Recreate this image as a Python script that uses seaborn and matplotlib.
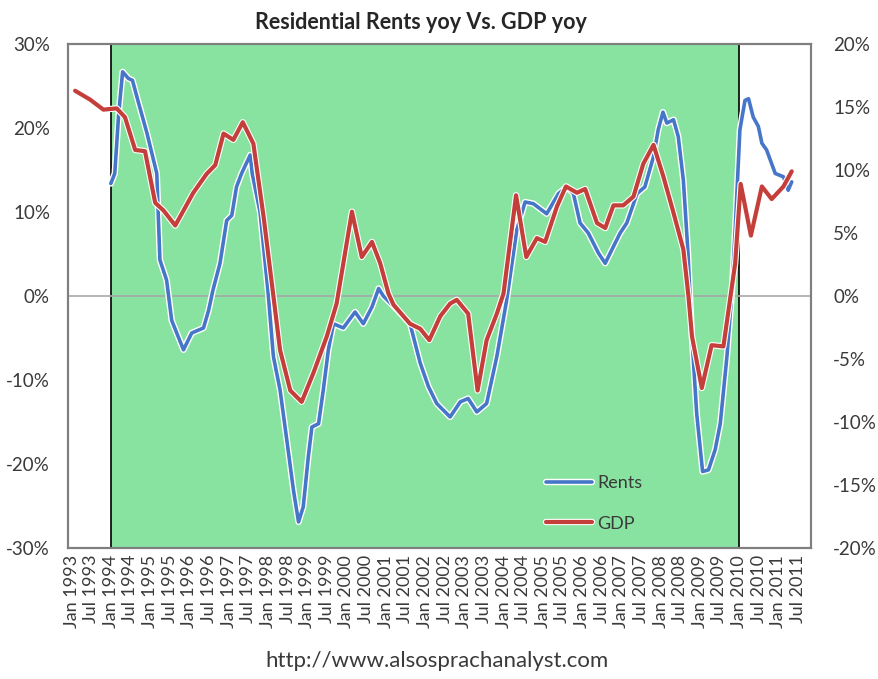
import pandas as pd
import seaborn as sns
import matplotlib.pyplot as plt
import matplotlib.patheffects as pe

sns.set_style("white")
plt.rcParams['font.family'] = ['Lato', 'DejaVu Sans']

# rents yoy (left axis, %) at decimal years
rent_year = [1994.0, 1994.1, 1994.2, 1994.3, 1994.45, 1994.55, 1994.7, 1994.92, 1995.17, 1995.25,
             1995.42, 1995.55, 1995.85, 1996.06, 1996.36, 1996.49, 1996.6, 1996.78, 1996.95, 1997.08,
             1997.2, 1997.33, 1997.55, 1997.6, 1997.8, 1998.0, 1998.14, 1998.31, 1998.48, 1998.65,
             1998.78, 1998.9, 1999.03, 1999.12, 1999.29, 1999.41, 1999.54, 1999.67, 1999.92, 2000.22,
             2000.43, 2000.65, 2000.82, 2000.94, 2001.24, 2001.62, 2001.88, 2002.09, 2002.3, 2002.64,
             2002.9, 2003.1, 2003.32, 2003.57, 2003.83, 2004.08, 2004.34, 2004.55, 2004.76, 2005.1,
             2005.4, 2005.61, 2005.78, 2005.95, 2006.16, 2006.42, 2006.59, 2006.8, 2006.97, 2007.14,
             2007.4, 2007.6, 2007.82, 2007.94, 2008.06, 2008.16, 2008.33, 2008.45, 2008.58, 2008.7,
             2008.8, 2008.92, 2009.07, 2009.22, 2009.39, 2009.52, 2009.69, 2009.81, 2009.9, 2010.02,
             2010.15, 2010.24, 2010.36, 2010.49, 2010.58, 2010.7, 2010.92, 2011.13, 2011.25, 2011.34]
rent_yoy = [13.4, 14.6, 21.7, 26.7, 25.9, 25.7, 23.1, 19.4, 14.6, 4.3,
            1.9, -2.9, -6.4, -4.4, -3.8, -1.7, 0.7, 3.9, 9.0, 9.6,
            13.0, 14.6, 16.8, 14.6, 10.0, 0.7, -7.2, -11.2, -17.1, -23.1,
            -26.9, -25.1, -19.1, -15.6, -15.2, -11.2, -6.4, -3.3, -3.8, -1.9,
            -3.3, -1.3, 0.9, 0.0, -1.4, -3.3, -8.0, -10.8, -12.8, -14.4,
            -12.6, -12.2, -13.8, -12.8, -7.2, -0.5, 7.9, 11.2, 11.0, 9.8,
            12.2, 13.0, 12.2, 8.7, 7.5, 5.1, 3.9, 5.9, 7.5, 8.7,
            12.2, 13.0, 16.6, 19.8, 21.9, 20.6, 21.0, 19.0, 13.8, 5.0,
            -5.0, -14.0, -20.9, -20.7, -18.3, -15.2, -7.2, 0.0, 7.9, 19.8,
            23.3, 23.5, 21.3, 20.2, 18.2, 17.4, 14.6, 14.2, 12.6, 13.6]

# GDP yoy (right axis, %)
gdp_year = [1993.09, 1993.47, 1993.81, 1994.15, 1994.36, 1994.62, 1994.87, 1995.13, 1995.34, 1995.64,
            1996.1, 1996.44, 1996.66, 1996.87, 1997.12, 1997.36, 1997.63, 1997.89, 1998.14, 1998.31,
            1998.57, 1998.86, 1999.16, 1999.5, 1999.75, 2000.14, 2000.39, 2000.65, 2000.86, 2001.07,
            2001.2, 2001.62, 2001.88, 2002.11, 2002.39, 2002.64, 2002.81, 2003.1, 2003.34, 2003.57,
            2003.83, 2004.0, 2004.32, 2004.58, 2004.85, 2005.06, 2005.36, 2005.59, 2005.87, 2006.08,
            2006.38, 2006.59, 2006.8, 2007.05, 2007.31, 2007.56, 2007.82, 2008.07, 2008.33, 2008.58,
            2008.71, 2008.8, 2009.05, 2009.3, 2009.6, 2009.9, 2010.04, 2010.3, 2010.58, 2010.83,
            2011.13, 2011.34]
gdp_yoy = [16.3, 15.6, 14.8, 14.9, 14.2, 11.6, 11.5, 7.4, 6.8, 5.6,
           8.2, 9.7, 10.4, 12.9, 12.4, 13.8, 12.1, 6.3, 0.0, -4.3,
           -7.5, -8.4, -6.1, -3.2, -0.6, 6.7, 3.1, 4.3, 2.6, 0.2,
           -0.7, -2.2, -2.6, -3.5, -1.6, -0.6, -0.3, -1.4, -7.5, -3.5,
           -1.4, 0.2, 8.0, 3.1, 4.6, 4.3, 7.1, 8.7, 8.2, 8.5,
           5.8, 5.4, 7.2, 7.2, 7.9, 10.5, 12.0, 9.5, 6.6, 3.7,
           0.0, -3.2, -7.3, -3.9, -4.0, 2.6, 8.9, 4.8, 8.7, 7.7,
           8.7, 9.9]

shade_start, shade_end = 1994.0, 2010.0
tick_pos = [1993 + i * 0.5 for i in range(38)]
tick_labels = [("Jan " if i % 2 == 0 else "Jul ") + str(1993 + i // 2) for i in range(38)]
left_ticks = [-30, -20, -10, 0, 10, 20, 30]
right_ticks = [-20, -15, -10, -5, 0, 5, 10, 15, 20]

rents = pd.DataFrame({"year": rent_year, "yoy": rent_yoy})
gdp = pd.DataFrame({"year": gdp_year, "yoy": gdp_yoy})

blue = "#4676C8"
red = "#C43E3A"
txt = "#3A3A3A"
halo = [pe.Stroke(linewidth=4.6, foreground="white"), pe.Normal()]

fig = plt.figure(figsize=(8.79, 6.79), dpi=100)
ax = fig.add_axes([0.0774, 0.193, 0.8452, 0.742])
ax2 = ax.twinx()

ax.axvspan(shade_start, shade_end, color="#88E3A0", zorder=0, lw=0)
ax.axvline(shade_start, color="black", lw=1.2, zorder=1)
ax.axvline(shade_end, color="black", lw=1.2, zorder=1)
ax.axhline(0, color="#A8A8A8", lw=1.2, zorder=1)

sns.lineplot(data=rents, x="year", y="yoy", ax=ax, color=blue, lw=2.6,
             label="Rents", legend=False, path_effects=halo, zorder=3)
sns.lineplot(data=gdp, x="year", y="yoy", ax=ax2, color=red, lw=3.0,
             label="GDP", legend=False, path_effects=halo, zorder=3)

ax.set_xlim(1992.91, 2011.83)
ax.set_ylim(-30, 30)
ax2.set_ylim(-20, 20)
ax.set_xticks(tick_pos)
ax.set_xticklabels(tick_labels, rotation=90, fontsize=13, color=txt)
ax.set_yticks(left_ticks)
ax.set_yticklabels([f"{v}%" for v in left_ticks], fontsize=13.5, color=txt)
ax2.set_yticks(right_ticks)
ax2.set_yticklabels([f"{v}%" for v in right_ticks], fontsize=13.5, color=txt)
ax.set_xlabel("")
ax.set_ylabel("")
ax2.set_ylabel("")
ax.tick_params(axis="y", length=0, pad=13)
ax.tick_params(axis="x", length=0, pad=5)
ax2.tick_params(axis="y", length=0, pad=16)
for a in (ax, ax2):
    for s in a.spines.values():
        s.set_color("#7F7F7F")
        s.set_linewidth(1.5)

handles = ax.get_lines()[3:4] + ax2.get_lines()[:1]
ax2.legend(handles, ["Rents", "GDP"], loc="lower left", bbox_to_anchor=(0.622, 0.0),
           frameon=False, fontsize=13, handlelength=2.5, handletextpad=0.3,
           labelspacing=1.35, labelcolor=txt)

fig.text(0.479, 0.967, "Residential Rents yoy Vs. GDP yoy", ha="center", va="center",
         fontsize=15.5, fontweight="bold")
fig.text(0.497, 0.027, "http://www.alsosprachanalyst.com", ha="center", va="center",
         fontsize=16, color=txt)

plt.savefig("out.png", dpi=100)
